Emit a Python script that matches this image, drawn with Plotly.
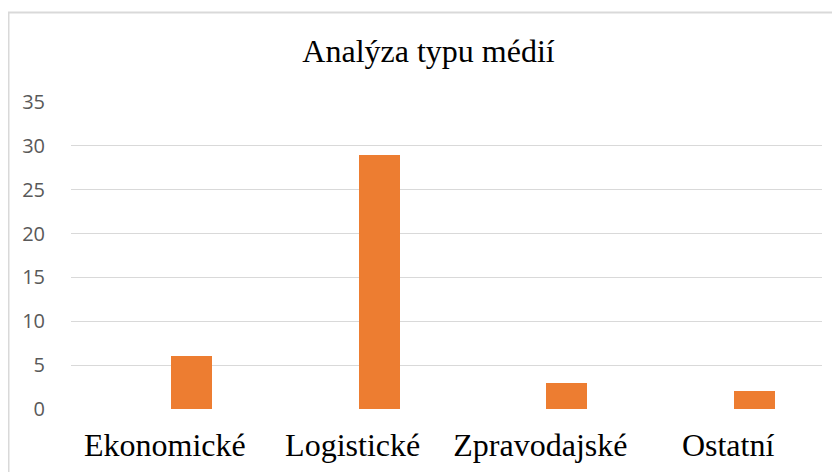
import plotly.graph_objects as go

categories = ["Ekonomické", "Logistické", "Zpravodajské", "Ostatní"]
values = [6, 29, 3, 2]
y_ticks = [0, 5, 10, 15, 20, 25, 30, 35]
title_text = "Analýza typu médií"

W, H = 840, 472
OFF = 8  # page body margin
# plot area in screen px: x 71..822, y 102..409
SL, SR, ST, SB = 71, 822, 102, 409
L = SL - OFF
T = ST - OFF
pw = SR - SL
ph = SB - ST
R = W - L - pw
B = H - T - ph

def px_x(sx):
    return (sx - SL) / pw

def px_y(sy):
    return (SB - sy) / ph

fig = go.Figure()
fig.add_trace(go.Bar(
    x=categories, y=values,
    marker=dict(color="#ED7D31", line=dict(width=0)),
    width=0.218, offset=0.0325,
    hoverinfo="x+y",
))

fig.update_layout(
    width=W, height=H,
    margin=dict(l=L, r=R, t=T, b=B),
    paper_bgcolor="white", plot_bgcolor="white",
    showlegend=False,
    bargap=0,
    title=dict(
        text=title_text,
        x=(428.5 - OFF) / W, xanchor="center",
        y=1 - (51 - OFF) / H, yanchor="middle",
        font=dict(family="Liberation Serif, Times New Roman, serif", size=32, color="#000000"),
    ),
    xaxis=dict(
        type="category",
        range=[-0.5, 3.5],
        showgrid=False, zeroline=False, showline=False,
        ticks="",
        tickfont=dict(family="Liberation Serif, Times New Roman, serif", size=32, color="#000000"),
        ticklabelstandoff=14,
    ),
    yaxis=dict(
        range=[0, 35],
        tickvals=y_ticks,
        ticktext=[str(v) for v in y_ticks],
        showgrid=True, gridcolor="#D9D9D9", gridwidth=1.3,
        zeroline=False, showline=False,
        ticks="",
        tickfont=dict(family="Open Sans, sans-serif", size=20, color="#595959"),
        ticklabelstandoff=25,
    ),
    shapes=[dict(
        type="rect", xref="paper", yref="paper",
        x0=px_x(8.6), x1=px_x(852), y0=px_y(490), y1=px_y(12.5),
        line=dict(color="#D9D9D9", width=1.8), fillcolor="rgba(0,0,0,0)",
        layer="below",
    )],
)

fig.write_html("out.html")
